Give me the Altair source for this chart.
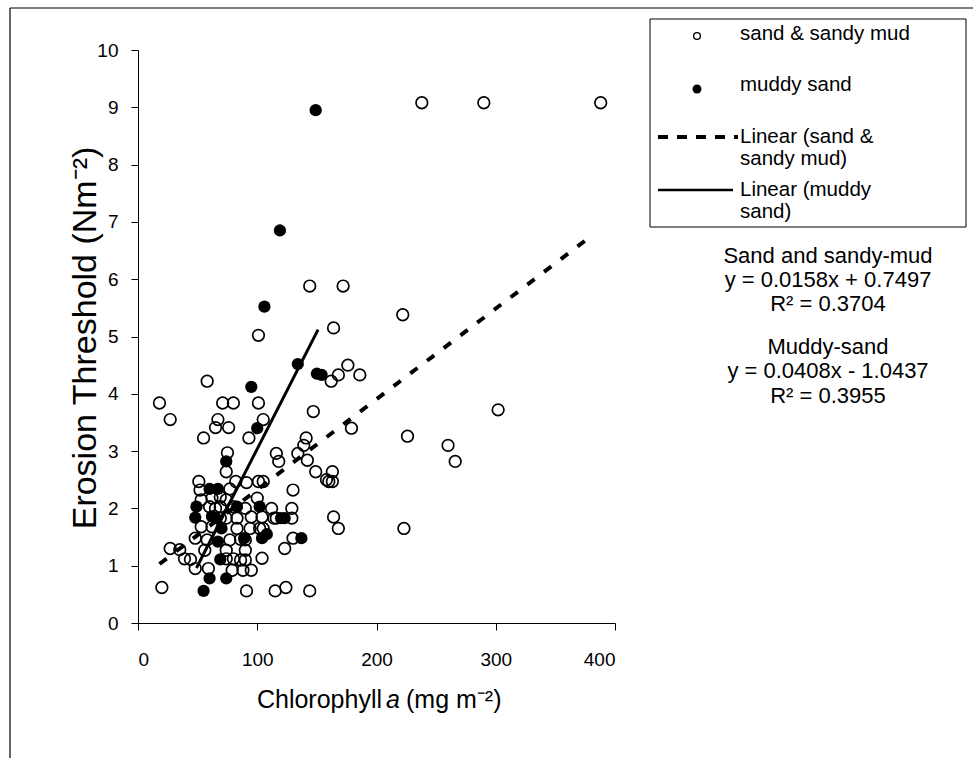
import altair as alt
import pandas as pd

# ---- data ----
open_x = [238, 290, 388, 144, 172, 222, 101, 164, 58, 162, 168, 176, 186,
          18, 71, 80, 101, 147, 302, 27, 67, 105, 65, 76, 179, 55, 93, 141, 226,
          139, 260, 75, 116, 134, 118, 142, 266, 74, 149, 163,
          51, 82, 91, 101, 105, 158, 160, 163, 52, 77, 130,
          53, 62, 69, 74, 100, 60, 69, 80, 90, 112, 129,
          69, 74, 83, 95, 104, 114, 116, 164, 168, 223,
          53, 62, 83, 94, 102, 48, 58, 90, 130,
          27, 35, 56, 74, 90, 123, 39, 44, 74, 80, 86, 90, 104,
          48, 59, 79, 88, 95, 20, 91, 115, 124, 144,
          129, 105, 86, 77, 65]
open_y = [9.08, 9.08, 9.08, 5.88, 5.88, 5.38, 5.02, 5.15, 4.22, 4.22, 4.33, 4.50, 4.33,
          3.84, 3.84, 3.84, 3.84, 3.69, 3.72, 3.55, 3.55, 3.55, 3.41, 3.41, 3.40, 3.23, 3.23, 3.23, 3.26,
          3.10, 3.10, 2.97, 2.96, 2.96, 2.82, 2.84, 2.82, 2.64, 2.64, 2.64,
          2.47, 2.47, 2.45, 2.47, 2.47, 2.50, 2.47, 2.47, 2.32, 2.34, 2.32,
          2.15, 2.18, 2.20, 2.15, 2.18, 2.03, 2.03, 2.03, 2.00, 2.00, 2.00,
          1.83, 1.83, 1.83, 1.85, 1.85, 1.83, 1.83, 1.85, 1.65, 1.65,
          1.68, 1.68, 1.65, 1.65, 1.65, 1.48, 1.45, 1.45, 1.48,
          1.30, 1.28, 1.27, 1.27, 1.27, 1.30, 1.12, 1.11, 1.12, 1.12, 1.10, 1.10, 1.13,
          0.95, 0.95, 0.92, 0.92, 0.92, 0.62, 0.56, 0.56, 0.62, 0.56,
          1.83, 1.65, 1.46, 1.45, 2.00]

filled_x = [149, 119, 106, 95, 134, 150, 154, 100, 74, 60, 67, 49, 83, 102,
            48, 62, 65, 120, 123, 70, 108, 104, 137, 67, 89, 69, 60, 74, 55]
filled_y = [8.95, 6.85, 5.52, 4.12, 4.52, 4.35, 4.33, 3.40, 2.82, 2.34, 2.34, 2.03, 2.03, 2.03,
            1.84, 1.86, 1.83, 1.83, 1.83, 1.65, 1.55, 1.48, 1.48, 1.42, 1.48, 1.11, 0.78, 0.78, 0.56]

# trend line end points
dash_x = [18, 378]
dash_y = [1.03, 6.72]
solid_x = [49, 151]
solid_y = [0.96, 5.12]

x_ticks = [0, 100, 200, 300, 400]
y_ticks = [0, 1, 2, 3, 4, 5, 6, 7, 8, 9, 10]

legend_labels = ["sand & sandy mud", "muddy sand", "Linear (sand &", "sandy mud)",
                 "Linear (muddy", "sand)"]
eq_lines = ["Sand and sandy-mud", "y = 0.0158x + 0.7497", "R\u00b2 = 0.3704",
            "Muddy-sand", "y = 0.0408x - 1.0437", "R\u00b2 = 0.3955"]

FONT = "Liberation Sans"
W, H = 477, 573
LEFT, TOP = 138, 50

df_open = pd.DataFrame({"x": open_x, "y": open_y})
df_fill = pd.DataFrame({"x": filled_x, "y": filled_y})
df_dash = pd.DataFrame({"x": dash_x, "y": dash_y})
df_solid = pd.DataFrame({"x": solid_x, "y": solid_y})

xs = alt.Scale(domain=[0, 400], nice=False)
ys = alt.Scale(domain=[0, 10], nice=False)
xax = alt.Axis(values=x_ticks, title=None, grid=False, tickSize=7, labelPadding=20,
               labelFontSize=19, labelFont=FONT, labelColor="black", format="d",
               domainColor="black", tickColor="black")
yax = alt.Axis(values=y_ticks, title=None, grid=False, tickSize=7, labelPadding=13,
               labelFontSize=19, labelFont=FONT, labelColor="black", format="d",
               domainColor="black", tickColor="black")

PSIZE = 135
base_open_bg = alt.Chart(df_open).mark_point(shape="circle", filled=True, color="white",
                                             size=PSIZE, opacity=1).encode(
    x=alt.X("x:Q", scale=xs, axis=xax), y=alt.Y("y:Q", scale=ys, axis=yax))
base_open = alt.Chart(df_open).mark_point(shape="circle", filled=False, color="black",
                                          size=PSIZE, strokeWidth=1.7, opacity=1).encode(
    x=alt.X("x:Q", scale=xs), y=alt.Y("y:Q", scale=ys))
filled = alt.Chart(df_fill).mark_point(shape="circle", filled=True, color="black",
                                       size=150, opacity=1).encode(
    x=alt.X("x:Q", scale=xs), y=alt.Y("y:Q", scale=ys))
dash_line = alt.Chart(df_dash).mark_line(color="black", strokeWidth=4,
                                         strokeDash=[9, 12]).encode(
    x=alt.X("x:Q", scale=xs), y=alt.Y("y:Q", scale=ys))
solid_line = alt.Chart(df_solid).mark_line(color="black", strokeWidth=3).encode(
    x=alt.X("x:Q", scale=xs), y=alt.Y("y:Q", scale=ys))

one = pd.DataFrame({"a": [0]})

def txt(s, px, py, size=22, align="left", angle=0, style="normal", baseline="middle"):
    kw = dict(text=s, fontSize=size, font=FONT, color="black", align=align,
              baseline=baseline, fontStyle=style)
    if angle:
        kw["angle"] = angle
    return alt.Chart(one).mark_text(**kw).encode(
        x=alt.value(px - LEFT), y=alt.value(py - TOP))

def rule(x1, y1, x2, y2, w=1, dash=None):
    kw = dict(color="black", strokeWidth=w)
    if dash:
        kw["strokeDash"] = dash
    return alt.Chart(one).mark_rule(**kw).encode(
        x=alt.value(x1 - LEFT), x2=alt.value(x2 - LEFT),
        y=alt.value(y1 - TOP), y2=alt.value(y2 - TOP))

# outer frame
frame = [rule(10, 8, 973, 8, 1.2), rule(10, 8, 10, 758, 1.2)]

# legend box
legbox = alt.Chart(one).mark_rect(fill="white", stroke="black", strokeWidth=1).encode(
    x=alt.value(650 - LEFT), x2=alt.value(966 - LEFT),
    y=alt.value(19 - TOP), y2=alt.value(227 - TOP))
leg_open = alt.Chart(one).mark_point(shape="circle", filled=False, color="black",
                                     size=45, strokeWidth=1.4, opacity=1).encode(
    x=alt.value(697 - LEFT), y=alt.value(36 - TOP))
leg_fill = alt.Chart(one).mark_point(shape="circle", filled=True, color="black",
                                     size=80, opacity=1).encode(
    x=alt.value(697 - LEFT), y=alt.value(89 - TOP))
leg_dash = rule(658, 137, 738, 137, 4, [10, 9])
leg_solid = rule(658, 190, 733, 190, 2.5)
LS = 20.5
leg_texts = [txt(legend_labels[0], 740, 34, LS), txt(legend_labels[1], 740, 85, LS),
             txt(legend_labels[2], 740, 137, LS), txt(legend_labels[3], 740, 159, LS),
             txt(legend_labels[4], 740, 190, LS), txt(legend_labels[5], 740, 212, LS)]

eq_y = [256, 280, 304, 347, 371, 396]
eqs = [txt(s, 828, yy, align="center") for s, yy in zip(eq_lines, eq_y)]

# axis titles
ytitle = txt("Erosion Threshold (Nm\u207b\u00b2)", 86, 338, size=34, align="center", angle=270)
xt1 = txt("Chlorophyll", 382, 700, size=25, align="right")
xt2 = txt("a", 393, 700, size=25, align="center", style="italic")
xt3 = txt("(mg m\u207b\u00b2)", 406, 700, size=25, align="left")

layers = frame + [base_open_bg, base_open, filled, dash_line, solid_line, legbox,
                  leg_open, leg_fill, leg_dash, leg_solid] + leg_texts + eqs + [ytitle, xt1, xt2, xt3]

chart = alt.layer(*layers).properties(
    width=W, height=H, autosize="none",
    padding={"left": LEFT, "top": TOP, "right": 973 - LEFT - W, "bottom": 758 - TOP - H},
    background="white",
).configure_view(stroke=None)

chart.save("out.html", embed_options={"renderer": "svg", "actions": False})
